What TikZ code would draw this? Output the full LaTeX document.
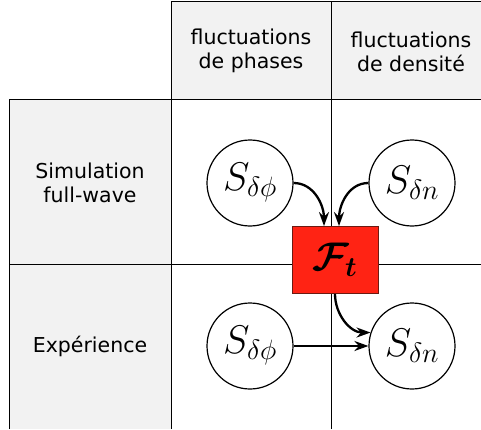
\RequirePackage{fix-cm}
\documentclass[tikz,border=0pt]{standalone}
\usepackage{amsmath,amssymb}
\usepackage{fontspec}
\setsansfont{DejaVu Sans}
\usetikzlibrary{arrows.meta}
\definecolor{cellgray}{HTML}{F2F2F2}
\definecolor{boxred}{HTML}{FF2314}
\definecolor{boxedge}{HTML}{6B1A12}

\begin{document}
\begin{tikzpicture}[x=1pt, y=1pt,
    lbl/.style={font=\sffamily\fontsize{20.5}{24}\selectfont, align=center},
    sig/.style={draw, circle, fill=white, line width=1.2pt, minimum size=86pt, inner sep=0pt, font=\fontsize{40}{44}\selectfont},
    flow/.style={-{Stealth[length=14pt, width=10pt]}, line width=2.3pt}]
    \useasboundingbox (0,0) rectangle (481,429);

    % --- Gray header cells (top row and left column) ---
    \fill[cellgray] (171,427) rectangle (481,329);
    \fill[cellgray] (9,329) rectangle (171,0);

    % --- Grid lines ---
    \draw[line width=1pt] (171,0) -- (171,427) -- (481,427);
    \draw[line width=1pt] (331,0) -- (331,427);
    \draw[line width=1pt] (9,0) -- (9,329) -- (481,329);
    \draw[line width=1pt] (9,165) -- (481,165);

    % --- Column and row titles ---
    \node[lbl] (colphase) at (251,378) {fluctuations\\de phases};
    \node[lbl] (coldens) at (411,377) {fluctuations\\de densité};
    \node[lbl] (rowsim) at (90,246) {Simulation\\full-wave};
    \node[lbl] (rowexp) at (90,83) {Expérience};

    % --- Signals ---
    \node[sig] (sphiA) at (250,246) {$S_{\delta\phi}$};
    \node[sig] (sdnA) at (412,246) {$S_{\delta n}$};
    \node[sig] (sphiB) at (250,83) {$S_{\delta\phi}$};
    \node[sig] (sdnB) at (412,83) {$S_{\delta n}$};

    % --- Transfer function box ---
    \node[draw=boxedge, fill=boxred, line width=0.8pt, minimum width=86pt, minimum height=67pt,
          font=\fontsize{40}{44}\selectfont] (ft) at (335,169) {$\boldsymbol{\mathcal{F}_t}$};

    % --- Arrows ---
    \draw[flow] (sphiA.east) to[out=0, in=90] ([xshift=-11pt]ft.north);
    \draw[flow] (sdnA.west) to[out=180, in=90] ([xshift=4pt]ft.north);
    \draw[flow] (ft.south) to[out=-90, in=180] (sdnB.162);
    \draw[flow] (sphiB.east) -- (sdnB.west);
\end{tikzpicture}
\end{document}
